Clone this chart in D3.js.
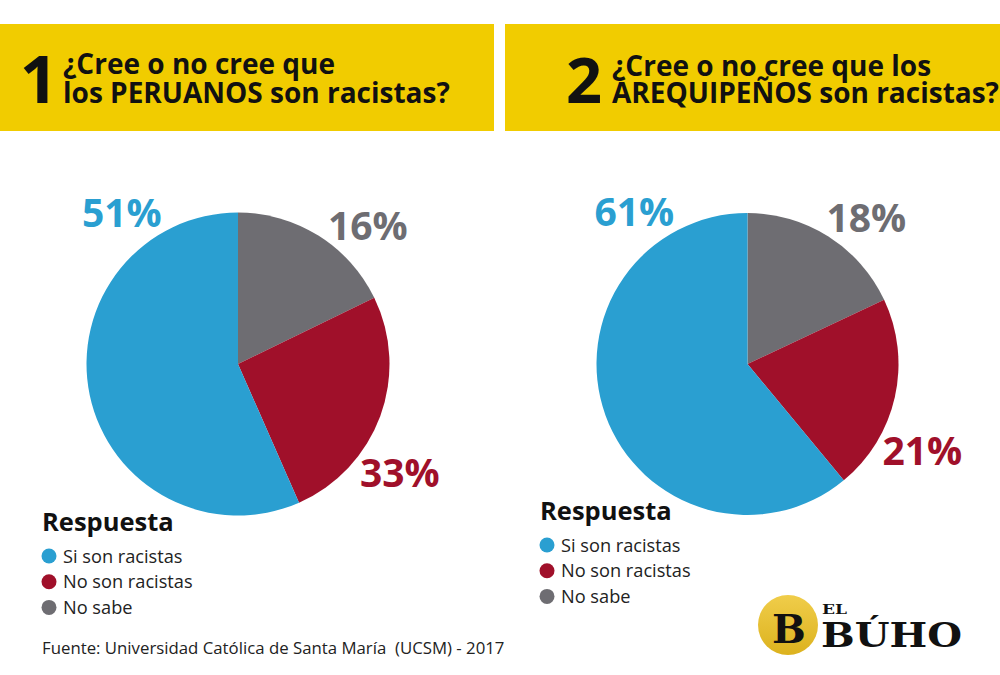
<!DOCTYPE html>
<html><head><meta charset="utf-8">
<script src="https://cdn.jsdelivr.net/npm/d3@7"></script>
<style>body{margin:0;background:#fff} svg{display:block}</style>
</head><body>
<svg id="chart" width="1000" height="675"></svg>
<script>
// ---- data ----
const categories = ["Si son racistas", "No son racistas", "No sabe"];
const catColors = ["#2a9fd1", "#a0102a", "#6e6d72"];
// slice sizes as drawn in the picture (%), in category order
const peruanosShares = [56.6, 25.6, 17.8];
const peruanosLabels = ["51%", "33%", "16%"];
const arequipenosShares = [61, 21, 18];
const arequipenosLabels = ["61%", "21%", "18%"];
const q1Number = "1";
const q1Lines = ["¿Cree o no cree que", "los PERUANOS son racistas?"];
const q2Number = "2";
const q2Lines = ["¿Cree o no cree que los", "AREQUIPEÑOS son racistas?"];
const legendTitle = "Respuesta";
const sourceText = "Fuente: Universidad Católica de Santa María  (UCSM) - 2017";

const svg = d3.select("#chart");
const FONT = "'Open Sans', 'Noto Sans', sans-serif";

// ---- headers ----
function header(x0, w, num, lines, numRight, numSize, textX, textSize, base1, base2) {
  svg.append("rect").attr("x", x0).attr("y", 24).attr("width", w).attr("height", 107)
    .attr("fill", "#f1cc00");
  svg.append("text").attr("x", numRight).attr("y", 103).attr("text-anchor", "end").text(num)
    .attr("font-family", FONT).attr("font-weight", 700).attr("font-size", numSize)
    .attr("fill", "#111");
  lines.forEach((ln, k) => {
    svg.append("text").attr("x", textX).attr("y", k === 0 ? base1 : base2).text(ln)
      .attr("font-family", FONT).attr("font-weight", 700)
      .attr("font-size", textSize).attr("fill", "#111");
  });
}
header(0, 494, q1Number, q1Lines, 58, 67, 63, 28, 74, 103);
header(505, 495, q2Number, q2Lines, 602, 63, 612, 28, 75.5, 103);

// ---- pies ----
// drawn clockwise from 12 o'clock: No sabe, No son racistas, Si son racistas
const drawOrder = [2, 1, 0];
const pie = d3.pie().sort(null).value(i => i.v);

function drawPie(cx, cy, r, shares, labels, labelPos) {
  const g = svg.append("g").attr("transform", `translate(${cx},${cy})`);
  const arc = d3.arc().innerRadius(0).outerRadius(r);
  const items = drawOrder.map(i => ({ i, v: shares[i] }));
  g.selectAll("path").data(pie(items)).join("path")
    .attr("d", arc).attr("fill", d => catColors[d.data.i]);
  labels.forEach((t, i) => {
    svg.append("text").attr("x", cx + labelPos[i][0]).attr("y", cy + labelPos[i][1])
      .text(t).attr("font-family", FONT).attr("font-weight", 700)
      .attr("font-size", 39).attr("fill", catColors[i]);
  });
}
drawPie(238, 364, 151.5, peruanosShares, peruanosLabels,
  [[-156, -137], [122, 123], [90, -124]]);
drawPie(747.5, 364, 151, arequipenosShares, arequipenosLabels,
  [[-153, -138], [135, 101], [79, -132]]);

// ---- legends ----
function legend(x, y) {
  svg.append("text").attr("x", x).attr("y", y).text(legendTitle)
    .attr("font-family", FONT).attr("font-weight", 700).attr("font-size", 25.5)
    .attr("fill", "#111");
  categories.forEach((c, i) => {
    const yy = y + 25 + i * 25.7;
    svg.append("circle").attr("cx", x + 7).attr("cy", yy).attr("r", 7.5)
      .attr("fill", catColors[i]);
    svg.append("text").attr("x", x + 21).attr("y", yy + 6.5).text(c)
      .attr("font-family", FONT).attr("font-size", 18.2).attr("fill", "#222");
  });
}
legend(42, 531);
legend(540, 520);

// ---- source ----
svg.append("text").attr("x", 42).attr("y", 654).text(sourceText)
  .attr("xml:space", "preserve").style("white-space", "pre")
  .attr("font-family", FONT).attr("font-size", 16.8).attr("fill", "#222");

// ---- logo ----
const defs = svg.append("defs");
const grad = defs.append("linearGradient").attr("id", "lg").attr("x1", 0).attr("y1", 0).attr("x2", 0).attr("y2", 1);
grad.append("stop").attr("offset", "0%").attr("stop-color", "#f0cd4a");
grad.append("stop").attr("offset", "100%").attr("stop-color", "#dcb21e");
svg.append("circle").attr("cx", 788).attr("cy", 625).attr("r", 30).attr("fill", "url(#lg)");
svg.append("text").attr("x", 789).attr("y", 643).attr("text-anchor", "middle").text("B")
  .attr("font-family", "'DejaVu Serif', serif").attr("font-weight", 700)
  .attr("font-size", 40).attr("fill", "#111");
svg.append("text").attr("x", 822).attr("y", 614).text("EL")
  .attr("font-family", "'DejaVu Serif', serif").attr("font-weight", 700)
  .attr("font-size", 13).attr("fill", "#111")
  .attr("textLength", 25).attr("lengthAdjust", "spacingAndGlyphs");
svg.append("text").attr("x", 821).attr("y", 647).text("BÚHO")
  .attr("font-family", "'DejaVu Serif', serif").attr("font-weight", 700)
  .attr("font-size", 33).attr("fill", "#111")
  .attr("textLength", 141).attr("lengthAdjust", "spacingAndGlyphs");
</script>
</body></html>
